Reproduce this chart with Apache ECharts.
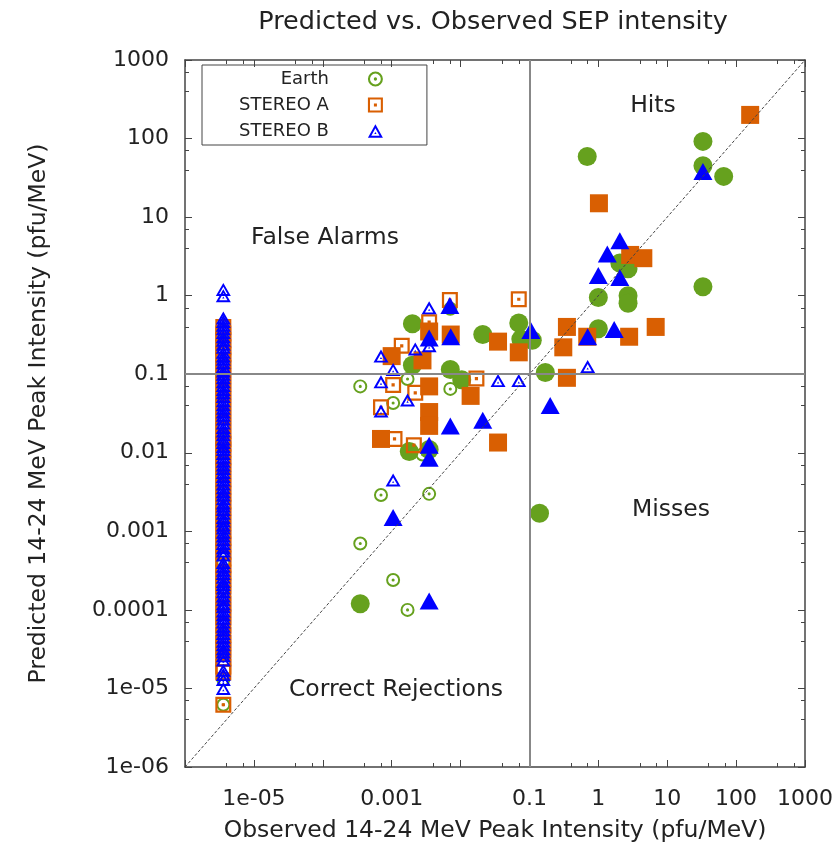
<!DOCTYPE html>
<html>
<head>
<meta charset="utf-8">
<title>Predicted vs. Observed SEP intensity</title>
<script src="https://cdn.jsdelivr.net/npm/echarts@6/dist/echarts.min.js"></script>
<style>
  html, body { margin: 0; padding: 0; background: #fff; }
  #sepChart { width: 838px; height: 846px; }
</style>
</head>
<body>
<div id="sepChart"></div>
<script>
// events with no observed SEP are put in a column at this x
const noObsX = 3.6e-6
const threshold = 0.1
const diagonal = [1e-6, 1000]

const seriesNames = ['Earth', 'STEREO A', 'STEREO B']
const quadrantNames = ['Hits', 'False Alarms', 'Misses', 'Correct Rejections']
// tick labels by exponent, 1e-06 .. 1000
const xTickLabels = ['', '1e-05', '', '0.001', '', '0.1', '1', '10', '100', '1000']
const yTickLabels = ['1e-06', '1e-05', '0.0001', '0.001', '0.01', '0.1', '1', '10', '100', '1000']

// predicted intensity of the events in the column
const earthColumn = [0.36, 0.26, 0.08, 0.06, 0.046, 0.02, 0.0052, 0.0032, 0.0015, 0.0009,
  0.0004, 0.00015, 0.000065, 0.000027, 0.000013, 0.0000062]
const stereoAColumn = [0.4, 0.33, 0.27, 0.22, 0.18, 0.15, 0.12, 0.095, 0.075, 0.06, 0.048,
  0.038, 0.03, 0.024, 0.019, 0.015, 0.013, 0.011, 0.0088, 0.0072, 0.0058, 0.0046, 0.0037,
  0.003, 0.0024, 0.002, 0.0016, 0.0013, 0.001, 0.00082, 0.00068, 0.00055, 0.00045, 0.00037,
  0.0003, 0.00025, 0.0002, 0.00016, 0.00012, 0.0001, 0.00008, 0.000063, 0.000048, 0.000038,
  0.000031, 0.000024, 0.000019, 0.000016, 0.0000062]
const stereoBColumn = [1.2, 1.0, 0.52, 0.47, 0.42, 0.38, 0.34, 0.3, 0.27, 0.24, 0.22, 0.19,
  0.17, 0.155, 0.14, 0.125, 0.11, 0.1, 0.09, 0.08, 0.072, 0.064, 0.058, 0.052, 0.046, 0.041,
  0.037, 0.033, 0.03, 0.027, 0.024, 0.021, 0.019, 0.017, 0.015, 0.0135, 0.012, 0.011, 0.0098,
  0.0088, 0.0078, 0.007, 0.0063, 0.0056, 0.005, 0.0045, 0.004, 0.0036, 0.0032, 0.0029, 0.0026,
  0.0023, 0.0021, 0.0019, 0.0017, 0.0015, 0.00135, 0.0012, 0.0011, 0.00097, 0.00087, 0.00078,
  0.0007, 0.00062, 0.00056, 0.0005, 0.0004, 0.00036, 0.00032, 0.00029, 0.00026, 0.00023,
  0.00021, 0.00019, 0.00017, 0.00015, 0.000135, 0.00012, 0.00011, 0.000097, 0.000087,
  0.000078, 0.00007, 0.000062, 0.000056, 0.00005, 0.000045, 0.00004, 0.000036, 0.000032,
  0.000029, 0.000026, 0.000023, 0.000017, 0.000015, 0.000013, 0.00001]

// [observed, predicted]
const earthOpen = [[0.00035, 0.07], [0.0017, 0.087], [0.0071, 0.065], [0.00105, 0.043],
  [0.0028, 0.0095], [0.0007, 0.0029], [0.0035, 0.003], [0.00035, 0.0007], [0.00105, 0.00024],
  [0.0017, 0.0001], [0.0071, 0.68]]
const earthFilled = [[33, 92], [0.69, 59], [33, 45], [66, 33], [2.05, 2.6], [2.7, 2.2],
  [1.0, 0.95], [2.7, 1.0], [2.7, 0.8], [33, 1.3], [0.07, 0.45], [0.075, 0.28], [0.11, 0.27],
  [1.0, 0.38], [0.17, 0.105], [0.14, 0.0017], [0.002, 0.44], [0.002, 0.13], [0.0071, 0.115],
  [0.0104, 0.085], [0.021, 0.32], [0.0018, 0.0104], [0.0035, 0.011], [0.00035, 0.00012]]
const stereoAOpen = [[0.07, 0.9], [0.007, 0.88], [0.0035, 0.46], [0.0014, 0.23], [0.017, 0.088],
  [0.00105, 0.073], [0.0022, 0.058], [0.0007, 0.038], [0.0011, 0.015], [0.0021, 0.0125]]
const stereoAFilled = [[160, 200], [1.02, 15], [2.9, 3.3], [4.5, 3.0], [0.035, 0.26],
  [0.07, 0.19], [0.35, 0.4], [0.31, 0.22], [0.69, 0.3], [2.8, 0.3], [6.8, 0.4], [0.35, 0.09],
  [0.0035, 0.35], [0.0072, 0.32], [0.001, 0.17], [0.0028, 0.15], [0.0035, 0.07], [0.014, 0.053],
  [0.0035, 0.033], [0.0035, 0.022], [0.0007, 0.015], [0.035, 0.0135]]
const stereoBOpen = [[0.0035, 0.7], [0.0035, 0.23], [0.0007, 0.17], [0.0022, 0.21],
  [0.00105, 0.115], [0.0007, 0.08], [0.0017, 0.047], [0.0007, 0.034], [0.035, 0.083],
  [0.07, 0.083], [0.7, 0.125], [0.00105, 0.0045]]
const stereoBFilled = [[33, 38], [2.05, 5], [1.35, 3.4], [1.0, 1.8], [2.05, 1.7], [0.105, 0.36],
  [0.7, 0.3], [1.7, 0.37], [0.2, 0.04], [0.007, 0.75], [0.0035, 0.29], [0.0072, 0.3],
  [0.0071, 0.022], [0.021, 0.026], [0.0035, 0.0125], [0.0035, 0.0085], [0.00105, 0.0015],
  [0.0035, 0.00013]]

const fontFamily = 'DejaVu Sans'
const textColor = '#222'
const frameColor = '#444'
const colors = ['#66a11e', '#d95f02', '#0000ff']

// hollow symbols with a dot in the middle (gnuplot style)
const ringSymbol = 'path://M10,0A10,10,0,1,1,10,20A10,10,0,1,1,10,0Z' +
  'M10,2.8A7.2,7.2,0,1,0,10,17.2A7.2,7.2,0,1,0,10,2.8Z' +
  'M10,7.8A2.2,2.2,0,1,1,10,12.2A2.2,2.2,0,1,1,10,7.8Z'
const boxSymbol = 'path://M0,0H20V20H0ZM2.8,2.8V17.2H17.2V2.8ZM8,8H12V12H8Z'
const deltaSymbol = 'path://M10,0L20,18H0ZM10,5.4L4.5,15.3H15.5ZM10,10.2L11.5,12.9H8.5Z'

const column = (values) => values.map((v) => [noObsX, v])
const exponent = (v) => Math.round(Math.log10(v)) + 6

function logAxis(extra) {
  return Object.assign({
    type: 'log',
    logBase: 10,
    min: 1e-6,
    max: 1000,
    splitNumber: 9,
    axisLine: { show: true, onZero: false, lineStyle: { color: frameColor, width: 1.5 } },
    axisTick: { show: true, inside: true, length: 7, lineStyle: { color: frameColor } },
    minorTick: { show: true, splitNumber: 3, length: 4, lineStyle: { color: frameColor } },
    splitLine: { show: false },
    axisLabel: { show: false }
  }, extra)
}

function scatter(name, data, symbol, size, color) {
  return {
    name,
    type: 'scatter',
    data,
    symbol,
    symbolSize: size,
    itemStyle: { color, opacity: 1 },
    silent: true
  }
}

const labelStyle = { fontFamily, fontSize: 22, color: textColor }
const nameStyle = { fontFamily, fontSize: 23.5, color: textColor }

const chart = echarts.init(document.getElementById('sepChart'))
chart.setOption({
  animation: false,
  backgroundColor: '#fff',
  title: {
    text: 'Predicted vs. Observed SEP intensity',
    left: 488,
    top: 4,
    textAlign: 'center',
    textStyle: { fontFamily, fontSize: 25.5, fontWeight: 'normal', color: textColor }
  },
  grid: { left: 185, right: 33, top: 60, bottom: 79, outerBoundsMode: 'none' },
  legend: {
    orient: 'vertical',
    align: 'right',
    left: 202,
    top: 65,
    data: seriesNames,
    itemWidth: 15,
    itemHeight: 15,
    itemGap: 8,
    padding: [5, 44, 5, 37],
    borderColor: frameColor,
    borderWidth: 1,
    selectedMode: false,
    textStyle: { fontFamily, fontSize: 18, color: textColor, padding: [0, 34, 0, 0] }
  },
  xAxis: [
    logAxis({
      position: 'bottom',
      axisLabel: Object.assign({
        interval: 0,
        margin: 21,
        formatter: (v) => xTickLabels[exponent(v)]
      }, labelStyle),
      name: 'Observed 14-24 MeV Peak Intensity (pfu/MeV)',
      nameLocation: 'middle',
      nameGap: 52,
      nameTextStyle: nameStyle
    }),
    logAxis({ position: 'top' })
  ],
  yAxis: [
    logAxis({
      position: 'left',
      axisLabel: Object.assign({
        interval: 0,
        margin: 16,
        formatter: (v) => yTickLabels[exponent(v)]
      }, labelStyle),
      name: 'Predicted 14-24 MeV Peak Intensity (pfu/MeV)',
      nameLocation: 'middle',
      nameGap: 134,
      nameTextStyle: nameStyle
    }),
    logAxis({ position: 'right' })
  ],
  graphic: [
    { type: 'text', x: 653, y: 106, style: { text: quadrantNames[0] } },
    { type: 'text', x: 325, y: 238, style: { text: quadrantNames[1] } },
    { type: 'text', x: 671, y: 510, style: { text: quadrantNames[2] } },
    { type: 'text', x: 396, y: 690, style: { text: quadrantNames[3] } }
  ].map((g) => Object.assign(g, {
    silent: true,
    style: Object.assign(g.style, {
      font: '23.5px "DejaVu Sans"',
      fill: textColor,
      textAlign: 'center',
      textVerticalAlign: 'middle'
    })
  })),
  series: [
    {
      name: 'y = x',
      type: 'line',
      data: diagonal.map((v) => [v, v]),
      symbol: 'none',
      silent: true,
      lineStyle: { color: frameColor, width: 1, type: [3, 2] },
      markLine: {
        silent: true,
        symbol: 'none',
        label: { show: false },
        lineStyle: { color: '#888', width: 2, type: 'solid' },
        data: [{ xAxis: threshold }, { yAxis: threshold }]
      }
    },
    scatter(seriesNames[0], column(earthColumn).concat(earthOpen), ringSymbol, 14, colors[0]),
    scatter(seriesNames[0] + ' events', earthFilled, 'circle', 19, colors[0]),
    scatter(seriesNames[1], column(stereoAColumn).concat(stereoAOpen), boxSymbol, 16, colors[1]),
    scatter(seriesNames[1] + ' events', stereoAFilled, 'rect', 18, colors[1]),
    scatter(seriesNames[2], column(stereoBColumn).concat(stereoBOpen), deltaSymbol, [15, 13], colors[2]),
    scatter(seriesNames[2] + ' events', stereoBFilled, 'triangle', [19, 17], colors[2])
  ]
})
</script>
</body>
</html>
